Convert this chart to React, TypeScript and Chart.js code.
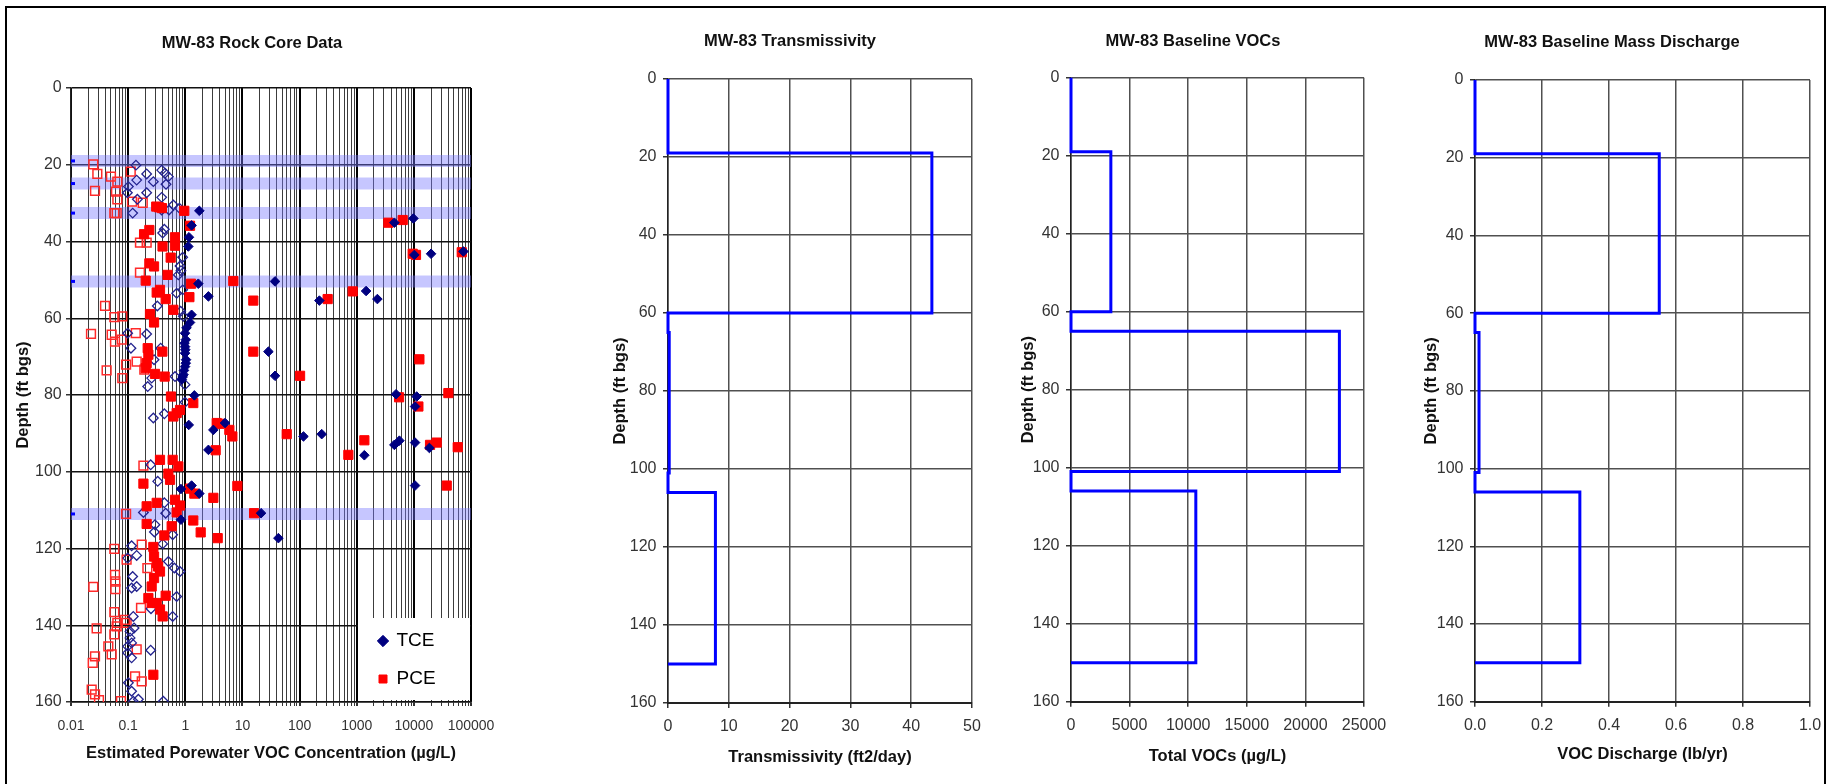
import React, { useEffect, useRef } from 'react';
import { Chart, registerables } from 'chart.js';

Chart.register(...registerables);

const FONT = "'Liberation Sans', Arial, Helvetica, sans-serif";
Chart.defaults.font.family = FONT;

// ---------------- data ----------------
const depthTicks = [0, 20, 40, 60, 80, 100, 120, 140, 160];
const concentrationDecades = [0.01, 0.1, 1, 10, 100, 1000, 10000, 100000];
const fractureDepths = [19, 24.9, 32.6, 50.4, 111];

// [concentration (µg/L), depth (ft bgs)]
const tceDetected: [number, number][] = [
  [1.76, 32.0], [1.29, 35.8], [1.16, 38.9], [1.13, 41.3], [1.69, 51.0], [2.54, 54.3], [37.2, 50.4],
  [222, 55.4], [1460, 52.9], [2300, 55.0], [4560, 35.1], [9820, 34.0], [10200, 43.5], [20000, 43.2],
  [73600, 42.6], [1.29, 59.1], [1.21, 61.1], [0.99, 63.9], [1.02, 65.6], [0.99, 67.4], [0.99, 69.1],
  [1.03, 70.8], [0.99, 72.6], [0.93, 74.7], [0.87, 76.0], [1.05, 62.5], [0.97, 66.5], [1.0, 68.2],
  [1.02, 71.7], [0.95, 73.6], [0.9, 75.3], [28.5, 68.7], [37.2, 75.0], [4880, 79.8],
  [11200, 80.4], [1.44, 80.1], [1.15, 87.8], [2.54, 94.3], [3.1, 89.1], [4.96, 87.3], [117, 90.8],
  [244, 90.2], [1360, 95.7], [4560, 93.0], [5580, 91.9], [10500, 92.4], [18700, 93.8], [10500, 83.0],
  [10500, 103.6], [0.84, 104.5], [1.29, 103.6], [1.76, 105.7], [0.84, 112.5], [21.2, 110.8], [42.6, 117.3],
];

const pceDetected: [number, number][] = [
  [0.96, 32.0], [0.31, 30.9], [0.35, 31.1], [0.39, 31.3], [1.21, 35.9], [0.19, 38.1], [0.235, 37.0],
  [0.4, 41.3], [0.66, 38.9], [0.66, 41.1], [0.555, 44.2], [0.235, 45.7], [0.284, 46.5], [0.203, 50.2],
  [0.49, 48.7], [1.26, 51.0], [0.316, 53.3], [0.361, 52.6], [0.454, 55.0], [1.18, 54.5], [0.618, 57.8],
  [6.93, 50.3], [15.5, 55.4], [310, 55.0], [851, 53.0], [0.241, 58.9], [0.284, 61.1], [0.22, 67.8],
  [0.226, 69.5], [0.211, 71.7], [0.203, 73.0], [0.397, 68.7], [0.295, 74.5], [0.436, 75.2], [15.5, 68.7],
  [102, 75.0], [3580, 35.1], [6380, 34.4], [9550, 43.2], [10900, 43.5], [12500, 70.7], [68900, 42.8],
  [0.562, 80.4], [1.38, 82.1], [0.618, 85.6], [0.707, 84.7], [0.809, 83.9], [3.95, 87.5], [3.55, 87.3],
  [5.9, 89.1], [6.66, 90.8], [59.6, 90.2], [1360, 91.8], [714, 95.6], [3.4, 94.4], [0.361, 96.9],
  [0.601, 96.9], [0.756, 98.6], [0.506, 100.5], [0.541, 102.1], [8.15, 103.7], [0.185, 103.1],
  [1.21, 104.4], [1.44, 105.7], [3.1, 106.8], [0.211, 109.0], [0.316, 108.1], [0.661, 107.3],
  [0.809, 108.8], [0.707, 110.6], [16.0, 110.8], [0.211, 113.6], [0.578, 114.2], [0.43, 116.6],
  [1.38, 112.7], [1.86, 115.8], [3.69, 117.3], [0.276, 119.6], [0.284, 122.1], [0.316, 123.8],
  [0.361, 126.0], [0.284, 127.7], [0.335, 124.7], [0.258, 129.9], [0.226, 132.9], [0.316, 134.2],
  [0.454, 132.3], [0.402, 137.7], [0.258, 134.2], [0.361, 135.9], [0.276, 152.9], [12000, 83.0],
  [5510, 80.6], [40200, 79.5], [19200, 93.0], [25100, 92.4], [58600, 93.6], [37600, 103.6],
];

const tceEstimated: [number, number][] = [
  [0.137, 20.1], [0.211, 22.4], [0.141, 24.0], [0.101, 25.7], [0.097, 27.3], [0.276, 24.4], [0.211, 27.3],
  [0.145, 29.0], [0.386, 21.4], [0.442, 22.2], [0.506, 23.1], [0.46, 25.1], [0.386, 28.5], [0.12, 32.6],
  [0.386, 31.8], [0.519, 31.8], [0.618, 30.5], [0.787, 31.3], [0.43, 36.8], [0.402, 37.8], [0.9, 44.1],
  [0.809, 46.4], [0.841, 47.6], [0.756, 48.7], [0.324, 56.8], [0.9, 52.6], [0.707, 53.5], [0.83, 58.2],
  [0.925, 59.5], [0.211, 64.1], [0.371, 67.8], [0.098, 63.9], [0.112, 67.8], [0.284, 70.8], [0.258, 75.6],
  [0.22, 77.8], [0.661, 75.2], [0.989, 77.3], [0.989, 81.9], [0.43, 84.9], [0.276, 86.0], [0.248, 98.2],
  [0.329, 102.5], [0.43, 108.1], [0.454, 110.8], [0.185, 110.6], [0.295, 113.8], [0.288, 115.7],
  [0.402, 118.8], [0.601, 116.4], [0.115, 119.3], [0.141, 121.8], [0.098, 122.5], [0.506, 123.4],
  [0.644, 125.1], [0.809, 126.0], [0.707, 132.5], [0.251, 135.7], [0.601, 137.7], [0.12, 127.3],
  [0.115, 130.3], [0.141, 129.9], [0.123, 137.7], [0.127, 140.7], [0.108, 141.6], [0.108, 143.3],
  [0.115, 144.6], [0.098, 145.5], [0.098, 147.2], [0.115, 148.5], [0.248, 146.5], [0.101, 155.0],
  [0.115, 157.2], [0.151, 159.3], [0.123, 159.8], [0.413, 159.8],
];

const pceEstimated: [number, number][] = [
  [0.0246, 19.9], [0.0289, 22.4], [0.0263, 26.8], [0.05, 23.1], [0.0647, 24.4], [0.0613, 27.0],
  [0.0647, 29.0], [0.0573, 32.6], [0.063, 32.6], [0.111, 21.8], [0.117, 29.6], [0.18, 29.9],
  [0.161, 40.3], [0.211, 40.3], [0.161, 48.1], [0.0394, 56.8], [0.0573, 59.7], [0.079, 59.5],
  [0.0224, 64.1], [0.0515, 64.3], [0.0589, 66.1], [0.077, 65.6], [0.136, 63.9], [0.042, 73.6],
  [0.092, 72.1], [0.079, 75.6], [0.141, 71.3], [0.192, 73.4], [0.185, 98.4], [0.092, 111.0],
  [0.094, 122.9], [0.0573, 120.1], [0.0589, 126.9], [0.0597, 128.6], [0.0246, 130.0], [0.0597, 130.6],
  [0.173, 119.0], [0.217, 125.1], [0.088, 138.6], [0.094, 139.4], [0.168, 135.5], [0.0573, 136.6],
  [0.0281, 140.8], [0.063, 140.3], [0.0573, 142.4], [0.0647, 139.4], [0.045, 145.5], [0.0515, 147.6],
  [0.0263, 148.1], [0.024, 149.8], [0.141, 146.3], [0.132, 153.3], [0.173, 154.6], [0.023, 156.8],
  [0.0263, 158.0], [0.0309, 159.5], [0.075, 159.8],
];

// depth intervals (ft bgs) and the value in each interval
const intervalTops = [0, 19, 60, 65, 101, 106];
const intervalBottoms = [19, 60, 65, 101, 106, 150];
const transmissivity = [0, 43.4, 0, 0.2, 0, 7.8];
const totalVOCs = [0, 3400, 0, 22900, 0, 10650];
const vocDischarge = [0, 0.55, 0, 0.012, 0, 0.313];

const transmissivityTicks = [0, 10, 20, 30, 40, 50];
const totalVOCTicks = [0, 5000, 10000, 15000, 20000, 25000];
const dischargeTicks = [0, 0.2, 0.4, 0.6, 0.8, 1.0];

// ---------------- helpers ----------------
const toXY = (arr: [number, number][]) => arr.map(([x, y]) => ({ x, y }));

function stepProfile(values: number[]) {
  const pts: { x: number; y: number }[] = [];
  values.forEach((v, i) => {
    pts.push({ x: v, y: intervalTops[i] });
    pts.push({ x: v, y: intervalBottoms[i] });
  });
  pts.push({ x: 0, y: intervalBottoms[intervalBottoms.length - 1] });
  return pts;
}

const isDecade = (v: number) => concentrationDecades.some((d) => Math.abs(v / d - 1) < 1e-9);

const logTickValues: number[] = (() => {
  const out: number[] = [];
  for (let i = 0; i < concentrationDecades.length - 1; i++) {
    for (let m = 1; m <= 9; m++) out.push(Number((m * concentrationDecades[i]).toPrecision(4)));
  }
  out.push(concentrationDecades[concentrationDecades.length - 1]);
  return out;
})();

const TICK_COLOR = '#333';
const TITLE_COLOR = '#111';
const axisTitleFont = { size: 16.5, weight: 'bold' as const };
const chartTitleFont = { size: 16.5, weight: 'bold' as const };

type Layout = {
  left: number; width: number; padRight: number; axisRight: number; yAxisWidth: number; xAxisHeight: number;
  titleTop: number; titleBottom: number; yTitlePad: number; xTitlePad: number; yTickPad: number; xTickPad: number;
};

const LAYOUT: Record<string, Layout> = {
  core: { left: 0, width: 530, padRight: 26, axisRight: 59, yAxisWidth: 71, xAxisHeight: 82, titleTop: 33.8, titleBottom: 34.4, yTitlePad: 13.1, xTitlePad: 20.8, yTickPad: 4.3, xTickPad: 11.4 },
  trans: { left: 605, width: 400, padRight: 30, axisRight: 33, yAxisWidth: 63, xAxisHeight: 81, titleTop: 31.8, titleBottom: 27.4, yTitlePad: 5.1, xTitlePad: 17.1, yTickPad: 6.5, xTickPad: 9.2 },
  vocs: { left: 1012, width: 390, padRight: 28, axisRight: 38, yAxisWidth: 59, xAxisHeight: 82.3, titleTop: 31.8, titleBottom: 26.1, yTitlePad: 6.1, xTitlePad: 18.1, yTickPad: 6.5, xTickPad: 9.2 },
  discharge: { left: 1412, width: 418, padRight: 18, axisRight: 20, yAxisWidth: 63, xAxisHeight: 82.3, titleTop: 32.6, titleBottom: 27.6, yTitlePad: 9.1, xTitlePad: 20.1, yTickPad: 6.5, xTickPad: 9.2 },
};

function depthScale(p: Layout, gridColor: string, gridWidth: number) {
  return {
    type: 'linear',
    position: 'left',
    reverse: true,
    min: 0,
    max: 160,
    afterBuildTicks: (s: any) => { s.ticks = depthTicks.map((v) => ({ value: v })); },
    ticks: { font: { size: 16 }, color: TICK_COLOR, padding: p.yTickPad },
    grid: { color: gridColor, lineWidth: gridWidth, tickLength: 5, tickColor: '#333' },
    border: { color: '#222', width: 1.5 },
    title: { display: true, text: 'Depth (ft bgs)', font: axisTitleFont, color: TITLE_COLOR, padding: { top: p.yTitlePad, bottom: 0 } },
    afterFit: (s: any) => { s.width = p.yAxisWidth; },
  };
}

function baseOptions(p: Layout, title: string, xScale: any, yScale: any, legend: any = { display: false }) {
  return {
    responsive: false,
    animation: false,
    events: [],
    layout: { padding: { left: 0, right: p.padRight, top: 0, bottom: 0 } },
    plugins: {
      legend,
      tooltip: { enabled: false },
      title: { display: true, text: title, font: chartTitleFont, color: TITLE_COLOR, padding: { top: p.titleTop, bottom: p.titleBottom } },
    },
    scales: { x: xScale, y: yScale },
  };
}

function linearXScale(p: Layout, max: number, ticks: number[], title: string, fmt: (v: number) => string) {
  return {
    type: 'linear',
    position: 'bottom',
    min: 0,
    max,
    afterBuildTicks: (s: any) => { s.ticks = ticks.map((v) => ({ value: v })); },
    ticks: { font: { size: 16 }, color: TICK_COLOR, padding: p.xTickPad, maxRotation: 0, minRotation: 0, autoSkip: false, callback: (v: any) => fmt(Number(v)) },
    grid: { color: '#505050', lineWidth: 1.5, tickLength: 5, tickColor: '#333' },
    border: { color: '#222', width: 2 },
    title: { display: true, text: title, font: axisTitleFont, color: TITLE_COLOR, padding: { top: 0, bottom: p.xTitlePad } },
    afterFit: (s: any) => { s.height = p.xAxisHeight; s.paddingRight = p.axisRight; },
  };
}

const legendPlacer = {
  id: 'legendPlacer',
  afterLayout(chart: any) {
    const lg = chart.legend;
    if (!lg) return;
    const a = chart.chartArea;
    const w = 110;
    const h = 95;
    lg.left = a.right - 111;
    lg.top = a.bottom - 89.5;
    lg.width = w;
    lg.height = h;
    lg.right = lg.left + w;
    lg.bottom = lg.top + h;
  },
  beforeDatasetsDraw(chart: any) {
    const lg = chart.legend;
    if (!lg) return;
    const a = chart.chartArea;
    const ctx = chart.ctx;
    ctx.save();
    ctx.fillStyle = '#ffffff';
    ctx.fillRect(a.right - 113, a.bottom - 84, 112, 82);
    ctx.restore();
    lg.draw();
  },
};

function coreConfig() {
  const p = LAYOUT.core;
  const datasets: any[] = [
    { label: 'TCE', data: toXY(tceDetected), pointStyle: 'rectRot', pointRadius: 4.8, backgroundColor: '#000080', borderColor: '#000080', borderWidth: 1 },
    { label: 'PCE', data: toXY(pceDetected), pointStyle: 'rect', pointRadius: 6.5, backgroundColor: '#FF0000', borderColor: '#FF0000', borderWidth: 1 },
    { label: 'TCE (estimated)', data: toXY(tceEstimated), pointStyle: 'rectRot', pointRadius: 4.8, backgroundColor: 'rgba(255,255,255,0)', borderColor: '#23238F', borderWidth: 1.3 },
    { label: 'PCE (estimated)', data: toXY(pceEstimated), pointStyle: 'rect', pointRadius: 6.2, backgroundColor: 'rgba(255,255,255,0)', borderColor: '#FF2A2A', borderWidth: 1.5 },
    ...fractureDepths.map((d, i) => ({
      label: 'Fracture ' + (i + 1),
      data: [{ x: concentrationDecades[0], y: d }, { x: concentrationDecades[concentrationDecades.length - 1], y: d }],
      showLine: true,
      borderColor: 'rgba(120,120,255,0.42)',
      borderWidth: 12,
      borderCapStyle: 'butt',
      pointStyle: 'line',
      pointRadius: (c: any) => (c.dataIndex === 0 ? 4 : 0),
      pointBorderColor: '#0000FF',
      pointBorderWidth: 3,
      clip: { left: 0, right: 0, top: 8, bottom: 8 },
    })),
  ];
  const xScale = {
    type: 'logarithmic',
    position: 'bottom',
    min: concentrationDecades[0],
    max: concentrationDecades[concentrationDecades.length - 1],
    afterBuildTicks: (s: any) => { s.ticks = logTickValues.map((v) => ({ value: v })); },
    ticks: {
      autoSkip: false, maxRotation: 0, minRotation: 0, font: { size: 14 }, color: TICK_COLOR, padding: p.xTickPad,
      callback: (v: any) => (isDecade(Number(v)) ? String(Number(v)) : ''),
    },
    grid: {
      color: (c: any) => (c.tick && isDecade(c.tick.value) ? '#000000' : '#3c3c3c'),
      lineWidth: (c: any) => (c.tick && isDecade(c.tick.value) ? 2 : 1),
      tickLength: 4,
      tickColor: '#333',
    },
    border: { color: '#111', width: 1.5 },
    title: { display: true, text: 'Estimated Porewater VOC Concentration (µg/L)', font: axisTitleFont, color: TITLE_COLOR, padding: { top: 0, bottom: p.xTitlePad } },
    afterFit: (s: any) => { s.height = p.xAxisHeight; s.paddingRight = p.axisRight; },
  };
  const legend = {
    display: true,
    position: 'chartArea',
    align: 'start',
    labels: {
      filter: (item: any) => item.datasetIndex < 2,
      usePointStyle: true,
      boxWidth: 8,
      boxHeight: 8,
      padding: 19,
      color: '#000',
      font: { size: 19 },
    },
  };
  return {
    type: 'scatter',
    data: { datasets },
    options: baseOptions(p, 'MW-83 Rock Core Data', xScale, depthScale(p, '#111', 1.5), legend),
    plugins: [legendPlacer],
  };
}

function stepConfig(key: string, title: string, values: number[], max: number, ticks: number[], xTitle: string, fmt: (v: number) => string) {
  const p = LAYOUT[key];
  return {
    type: 'scatter',
    data: {
      datasets: [{
        label: xTitle,
        data: stepProfile(values),
        showLine: true,
        borderColor: '#0000FF',
        borderWidth: 3,
        pointRadius: 0,
        tension: 0,
        clip: false,
      }],
    },
    options: baseOptions(p, title, linearXScale(p, max, ticks, xTitle, fmt), depthScale(p, '#505050', 1.5)),
  };
}

function ChartCanvas({ layout, make }: { layout: Layout; make: () => any }) {
  const ref = useRef<HTMLCanvasElement | null>(null);
  useEffect(() => {
    if (!ref.current) return;
    const chart = new Chart(ref.current, make());
    return () => chart.destroy();
  }, []);
  return (
    <canvas
      ref={ref}
      width={layout.width}
      height={784}
      style={{ position: 'absolute', left: layout.left, top: 0, width: layout.width, height: 784 }}
    />
  );
}

export default function App() {
  return (
    <div style={{ position: 'fixed', left: 0, top: 0, width: 1838, height: 784, background: '#fff', overflow: 'hidden' }}>
      <div
        style={{
          position: 'absolute', left: 5, top: 6, width: 1817, height: 800,
          borderTop: '2px solid #000', borderLeft: '2px solid #000', borderRight: '2px solid #000',
        }}
      />
      <ChartCanvas layout={LAYOUT.core} make={coreConfig} />
      <ChartCanvas
        layout={LAYOUT.trans}
        make={() => stepConfig('trans', 'MW-83 Transmissivity', transmissivity, 50, transmissivityTicks, 'Transmissivity (ft2/day)', (v) => String(v))}
      />
      <ChartCanvas
        layout={LAYOUT.vocs}
        make={() => stepConfig('vocs', 'MW-83 Baseline VOCs', totalVOCs, 25000, totalVOCTicks, 'Total VOCs (µg/L)', (v) => String(v))}
      />
      <ChartCanvas
        layout={LAYOUT.discharge}
        make={() => stepConfig('discharge', 'MW-83 Baseline Mass Discharge', vocDischarge, 1, dischargeTicks, 'VOC Discharge (lb/yr)', (v) => v.toFixed(1))}
      />
    </div>
  );
}
